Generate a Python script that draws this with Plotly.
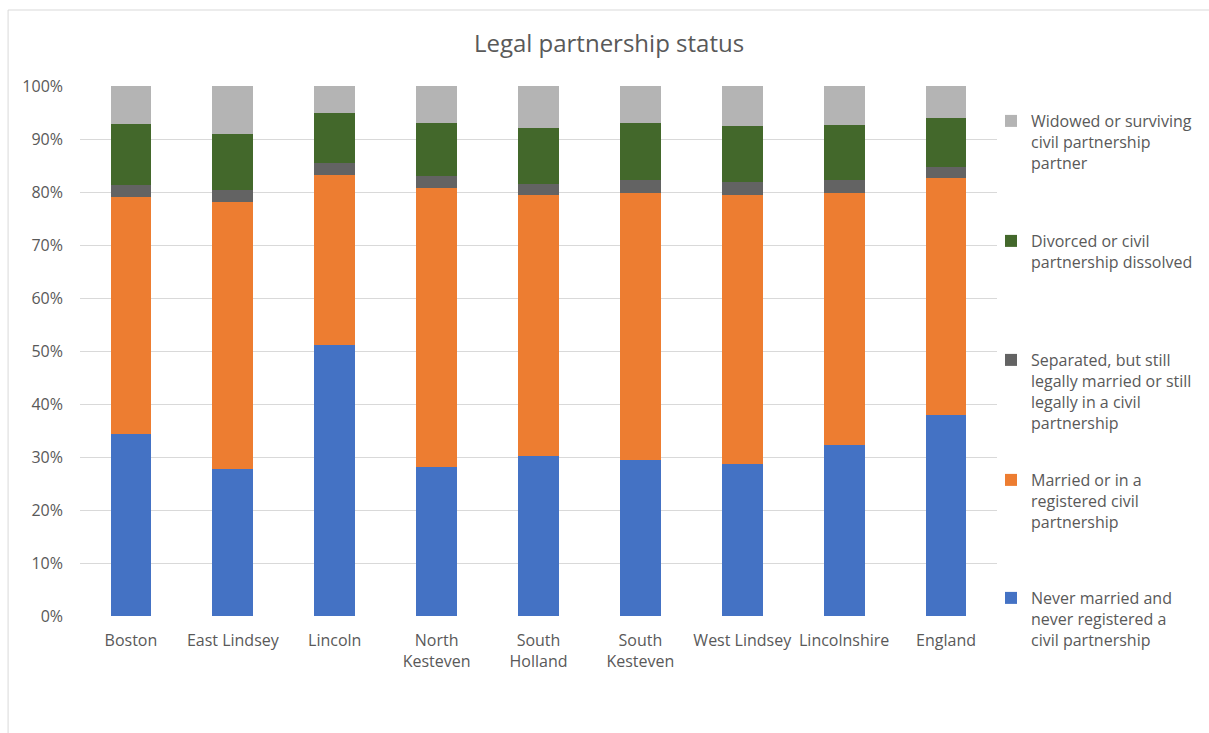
import plotly.graph_objects as go

categories = ["Boston", "East Lindsey", "Lincoln", "North<br>Kesteven", "South<br>Holland",
              "South<br>Kesteven", "West Lindsey", "Lincolnshire", "England"]
never_married = [34.3, 27.7, 51.1, 28.1, 30.1, 29.4, 28.7, 32.2, 37.9]
married = [44.7, 50.4, 32.2, 52.7, 49.3, 50.5, 50.7, 47.7, 44.7]
separated = [2.4, 2.3, 2.1, 2.2, 2.2, 2.4, 2.5, 2.4, 2.2]
divorced = [11.4, 10.6, 9.6, 10.0, 10.5, 10.7, 10.6, 10.4, 9.2]
widowed = [7.2, 9.0, 5.0, 7.0, 7.9, 7.0, 7.5, 7.3, 6.0]

series = [
    ("Never married and<br>never registered a<br>civil partnership", never_married, "#4472C4", "legend5"),
    ("Married or in a<br>registered civil<br>partnership", married, "#ED7D31", "legend4"),
    ("Separated, but still<br>legally married or still<br>legally in a civil<br>partnership", separated, "#636363", "legend3"),
    ("Divorced or civil<br>partnership dissolved", divorced, "#43682B", "legend2"),
    ("Widowed or surviving<br>civil partnership<br>partner", widowed, "#B4B4B4", "legend"),
]

FONT = "Open Sans"
TXT = "#595959"

fig = go.Figure()
for name, vals, color, lg in series:
    fig.add_trace(go.Bar(x=categories, y=[v / 100 for v in vals], name=name,
                         marker=dict(color=color, line=dict(width=0)), legend=lg))

# legend positions (first-line centers in pixels)
L, T, PW, PH = 80, 86, 918, 530
centers = {"legend": 119, "legend2": 239, "legend3": 358, "legend4": 478, "legend5": 596}
legends = {}
for key, cy in centers.items():
    legends[key] = dict(x=(991 - L) / PW, xanchor="left", y=(T + PH - (cy - 15)) / PH, yanchor="top",
                        font=dict(family=FONT, size=16, color=TXT), bgcolor="rgba(0,0,0,0)",
                        valign="top", itemclick=False)

fig.update_layout(
    width=1209, height=733,
    margin=dict(l=L, r=1209 - L - PW, t=T, b=733 - T - PH),
    barmode="stack", bargap=0.6,
    paper_bgcolor="white", plot_bgcolor="white",
    title=dict(text="Legal partnership status", x=609 / 1209, xref="container", xanchor="center",
               y=1 - 44 / 733, yanchor="middle",
               font=dict(family=FONT, size=24, color=TXT)),
    font=dict(family=FONT, size=16, color=TXT),
    xaxis=dict(showgrid=False, ticks="", ticklabelstandoff=13,
               tickfont=dict(family=FONT, size=16, color=TXT)),
    yaxis=dict(range=[0, 1], tickformat=".0%", dtick=0.1, gridcolor="#D9D9D9", gridwidth=1,
               zeroline=False, ticks="", ticklabelstandoff=16,
               tickfont=dict(family=FONT, size=16, color=TXT)),
    showlegend=True,
    **legends,
)
fig.add_shape(type="rect", xref="paper", yref="paper",
              x0=(8 - L) / PW, x1=(1240 - L) / PW, y0=(T + PH - 760) / PH, y1=(T + PH - 10) / PH,
              line=dict(color="#D9D9D9", width=1), fillcolor="rgba(0,0,0,0)", layer="below")

fig.write_html("out.html")
